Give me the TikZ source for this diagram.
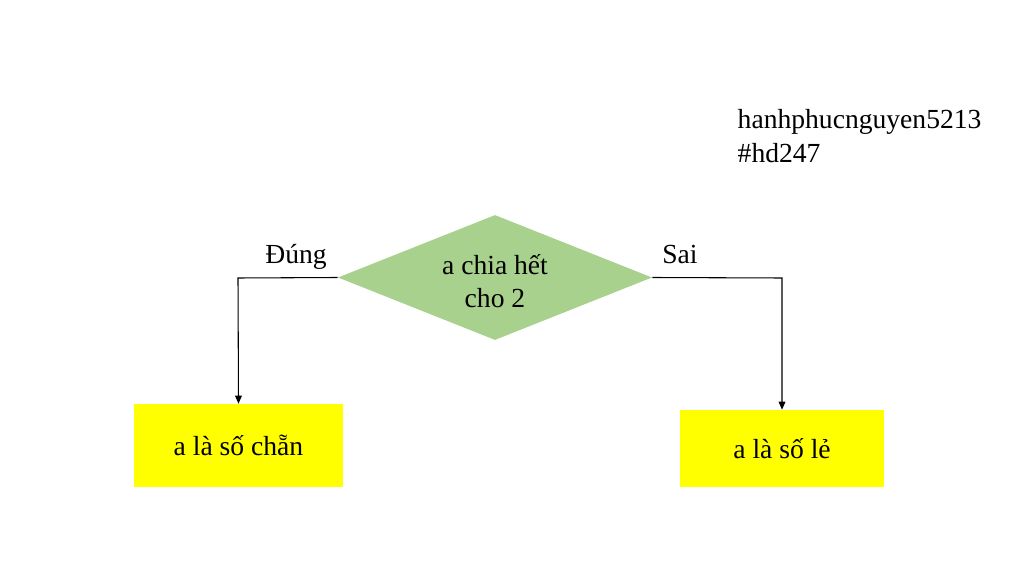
\documentclass[tikz,border=0pt]{standalone}
\usepackage{fontspec}
\setmainfont{Liberation Serif}
\usetikzlibrary{shapes.geometric,arrows.meta}
\definecolor{dgreen}{HTML}{A9D18E}
\definecolor{byellow}{HTML}{FFFF00}
\begin{document}
\begin{tikzpicture}[x=0.75pt,y=-0.75pt,
  txt/.style={font=\fontsize{20.7pt}{25pt}\selectfont},
  decision/.style={diamond,fill=dgreen,draw=none,minimum width=235.5pt,minimum height=93.75pt,shape aspect=2.5,inner sep=0pt,align=center,txt},
  result/.style={rectangle,fill=byellow,draw=none,inner sep=0pt,txt},
  conn/.style={draw=black,line width=0.8pt,-{Triangle[length=6pt,width=5pt]}}]
\useasboundingbox (0,0) rectangle (1024,566);
\fill[white] (0,0) rectangle (1024,566);
\node[decision] (d) at (495,277.5) {};
\node[txt,align=center] (dt) at (495,281) {a chia hết\\cho 2};
\node[result,minimum width=156.75pt,minimum height=62.25pt] (l) at (238.5,445.5) {a là số chẵn};
\node[result,minimum width=153pt,minimum height=57.75pt] (r) at (782,448.5) {a là số lẻ};
\coordinate (lc) at (238,278);
\coordinate (rc) at (782,278);
\draw[conn] (d.west) -- (lc) -- (l.north);
\draw[conn] (d.east) -- (rc) -- (r.north);
\node[txt] (yes) at (296,257) {Đúng};
\node[txt] (no) at (680,254) {Sai};
\node[txt,anchor=west,align=left] (sig) at (733,136) {hanhphucnguyen5213\\\#hd247};
\end{tikzpicture}
\end{document}
